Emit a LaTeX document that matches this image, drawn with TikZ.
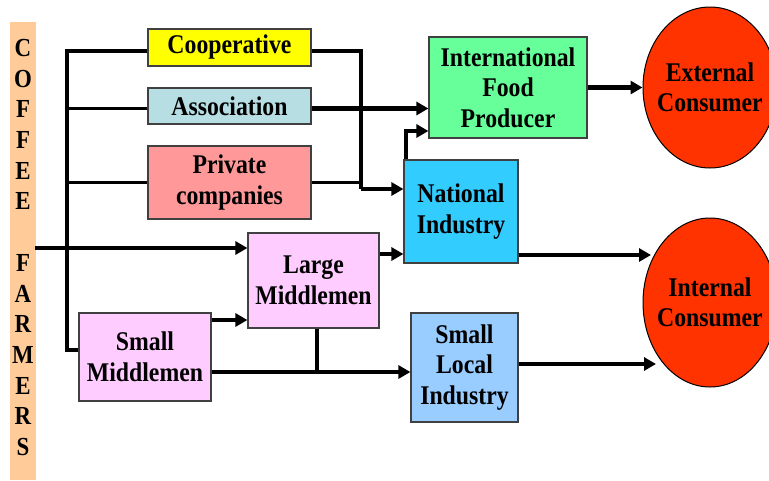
\documentclass[tikz,border=0pt]{standalone}
\usepackage{fontspec}
\setmainfont{Liberation Serif}[FakeStretch=0.88]
\usetikzlibrary{arrows.meta,shapes.geometric}
\definecolor{barc}{HTML}{FFCC99}
\definecolor{coopc}{HTML}{FFFF00}
\definecolor{assocc}{HTML}{B7DEE3}
\definecolor{privc}{HTML}{FF9999}
\definecolor{ifpc}{HTML}{66FF99}
\definecolor{natc}{HTML}{33CCFF}
\definecolor{midc}{HTML}{FFCCFF}
\definecolor{slic}{HTML}{99CCFF}
\definecolor{consc}{HTML}{FF3300}
\definecolor{edgec}{HTML}{404040}
\begin{document}
\begin{tikzpicture}[x=1pt,y=-1pt,
  txt/.style={inner sep=0pt,align=center,font=\fontsize{27}{30.5}\selectfont\bfseries},
  box/.style={txt,draw=edgec,line width=1.2pt},
  cons/.style={ellipse,draw=black,line width=1pt,fill=consc,inner sep=0pt},
  plain/.style={line width=3.5pt},
  arr/.style={line width=4.5pt,-{Triangle[length=12pt,width=13pt]}},
]
\useasboundingbox (0,0) rectangle (769,480);
% bar
\node[fill=barc,minimum width=26pt,minimum height=458pt,inner sep=0pt] (farmers) at (23,251) {};
\node[align=center,inner sep=0pt,font=\fontsize{26}{30.7}\selectfont\bfseries] (farmtxt) at (23,247.5)
  {C\\O\\F\\F\\E\\E\\[30.7pt]F\\A\\R\\M\\E\\R\\S};
% boxes
\node[box,fill=coopc,minimum width=163pt,minimum height=37pt] (coop) at (229.5,47.5) {Cooperative};
\node[box,fill=assocc,minimum width=163pt,minimum height=36pt] (assoc) at (229.5,106) {Association};
\node[box,fill=privc,minimum width=163pt,minimum height=73pt] (priv) at (229.5,182.5) {Private\\companies};
\node[box,fill=ifpc,minimum width=158pt,minimum height=101pt] (ifp) at (508,87.5) {International\\Food\\Producer};
\node[box,fill=natc,minimum width=114pt,minimum height=103pt] (nat) at (461,211.5) {National\\Industry};
\node[box,fill=midc,minimum width=131pt,minimum height=95pt] (large) at (313.5,280.5) {Large\\Middlemen};
\node[box,fill=midc,minimum width=132pt,minimum height=88pt] (small) at (145,357) {Small\\Middlemen};
\node[box,fill=slic,minimum width=107pt,minimum height=109pt] (sli) at (464.5,367.5) {Small\\Local\\Industry};
\node[cons,minimum width=134pt,minimum height=161pt] (ext) at (710,87.5) {};
\node[txt] (exttxt) at (ext.center) {External\\Consumer};
\node[cons,minimum width=134pt,minimum height=169pt] (intc) at (710,302.5) {};
\node[txt] (inttxt) at (intc.center) {Internal\\Consumer};
% coordinates
\coordinate (tTop) at (67,51);
\coordinate (tBot) at (67,350);
\coordinate (cR) at (361,51);
\coordinate (cB) at (361,189);
\coordinate (nU) at (406,131);
\coordinate (fL) at (35,248);
\coordinate (lnY) at (0,254);
\coordinate (iT1) at (651,255);
\coordinate (iT2) at (656,364);
\coordinate (smY) at (0,320);
\coordinate (mj) at (317,372);
% connectors
\draw[plain] (tTop -| coop.west) -- (tTop) -- (tBot) -- (tBot -| small.west);
\draw[plain] ([yshift=-2.5pt]assoc.west) -- ([yshift=-2.5pt]assoc.west -| tTop);
\draw[plain] (priv.west) -- (priv.west -| tTop);
\draw[plain] (cR -| coop.east) -- (cR) -- (cB);
\draw[plain] (priv.east) -- (priv.east -| cR);
\draw[arr] (cB) -- (cB -| nat.west);
\draw[arr] ([yshift=-2.5pt]assoc.east) -- ([yshift=-2.5pt]assoc.east -| ifp.west);
\draw[arr] (nU |- nat.north) -- (nU) -- (nU -| ifp.west);
\draw[arr] (ifp.east) -- (ext.west);
\draw[arr] (fL) -- (fL -| large.west);
\draw[arr] (large.east |- lnY) -- (nat.west |- lnY);
\draw[arr] (nat.east |- iT1) -- (iT1);
\draw[arr] (small.east |- smY) -- (large.west |- smY);
\draw[plain] (mj |- large.south) -- (mj);
\draw[arr] (small.east |- mj) -- (mj -| sli.west);
\draw[arr] (sli.east |- iT2) -- (iT2);
\end{tikzpicture}
\end{document}
